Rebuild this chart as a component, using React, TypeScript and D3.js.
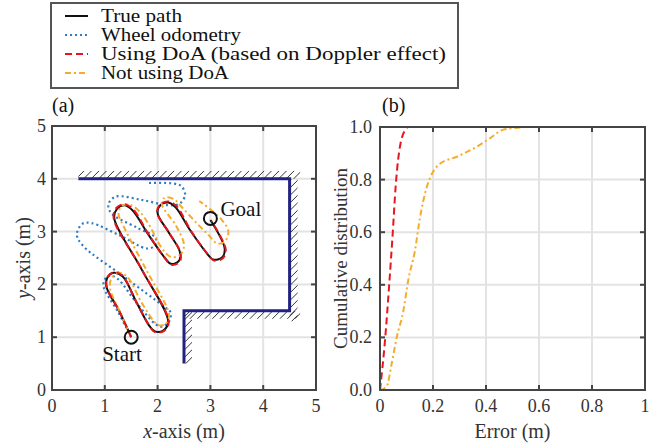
import React from 'react';
import * as d3 from 'd3';

type P = [number, number];

// Left panel (a): trajectories in metres
const truePath: P[] = [
  [1.50, 1.00], [1.27, 1.50], [1.03, 1.96], [1.05, 2.13], [1.17, 2.22], [1.34, 2.15], [1.60, 1.66], [1.84, 1.22],
  [1.95, 1.11], [2.10, 1.12], [2.20, 1.30], [1.70, 2.28], [1.18, 3.25], [1.23, 3.43], [1.37, 3.50], [1.52, 3.41],
  [1.82, 2.95], [2.14, 2.50], [2.25, 2.39], [2.40, 2.44], [2.42, 2.62], [2.20, 3.00], [2.00, 3.35], [2.06, 3.51],
  [2.20, 3.55], [2.34, 3.46], [2.62, 3.02], [2.94, 2.58], [3.05, 2.47], [3.22, 2.51], [3.27, 2.68], [3.00, 3.22],
];

const wheelOdometry: P[] = [
  [1.50, 1.00], [1.25, 1.48], [0.98, 1.95], [1.00, 2.10], [1.10, 2.17], [1.25, 2.10], [1.60, 1.65], [1.97, 1.24],
  [2.08, 1.20], [2.22, 1.30], [2.24, 1.48], [2.12, 1.58], [1.40, 2.12], [0.58, 2.74], [0.47, 2.95], [0.58, 3.15],
  [0.75, 3.16], [1.30, 2.92], [1.80, 2.68], [1.95, 2.74], [1.96, 2.88], [1.60, 3.08], [1.12, 3.35], [1.07, 3.52],
  [1.20, 3.66], [1.70, 3.60], [2.20, 3.50], [2.42, 3.53], [2.52, 3.70], [2.45, 3.86], [2.30, 3.91], [1.82, 3.92],
];

const usingDoA: P[] = [
  [1.50, 1.00], [1.28, 1.48], [1.04, 1.94], [1.04, 2.12], [1.16, 2.23], [1.33, 2.17], [1.58, 1.70], [1.83, 1.24],
  [1.94, 1.10], [2.11, 1.11], [2.21, 1.28], [1.72, 2.25], [1.17, 3.24], [1.21, 3.44], [1.36, 3.52], [1.53, 3.43],
  [1.84, 2.93], [2.15, 2.48], [2.26, 2.37], [2.42, 2.43], [2.43, 2.61], [2.21, 2.99], [1.99, 3.36], [2.05, 3.52],
  [2.21, 3.57], [2.36, 3.48], [2.64, 3.00], [2.96, 2.56], [3.07, 2.45], [3.24, 2.50], [3.29, 2.67], [3.02, 3.20],
];

const notUsingDoA: P[] = [
  [1.50, 1.00], [1.30, 1.45], [1.10, 1.92], [1.12, 2.10], [1.25, 2.22], [1.42, 2.15], [1.70, 1.65], [1.95, 1.28],
  [2.05, 1.22], [2.18, 1.28], [2.21, 1.45], [1.80, 2.25], [1.38, 3.05], [1.26, 3.35], [1.34, 3.50], [1.50, 3.50],
  [1.66, 3.38], [1.85, 3.11], [2.07, 2.70], [2.25, 2.52], [2.42, 2.55], [2.50, 2.74], [2.35, 3.11], [2.08, 3.52],
  [2.13, 3.64], [2.30, 3.62], [2.46, 3.46], [2.75, 3.15], [2.95, 2.95], [3.14, 2.77], [3.28, 2.82], [3.34, 3.00],
  [3.20, 3.24], [2.79, 3.58],
];

const wall: P[] = [[0.5, 4.0], [4.5, 4.0], [4.5, 1.5], [2.5, 1.5], [2.5, 0.5]];
const startPt: P = [1.5, 1.0];
const goalPt: P = [3.0, 3.25];

// Right panel (b): cumulative distributions of error (m)
const cdfUsingDoA: P[] = [
  [0, 0], [0.019, 0.19], [0.035, 0.405], [0.048, 0.596], [0.059, 0.773], [0.078, 0.94], [0.1, 0.995], [0.105, 1.0],
];
const cdfNotUsingDoA: P[] = [
  [0, 0], [0.025, 0.013], [0.044, 0.10], [0.063, 0.20], [0.088, 0.30], [0.107, 0.42], [0.132, 0.53], [0.15, 0.65],
  [0.176, 0.77], [0.195, 0.82], [0.226, 0.86], [0.29, 0.887], [0.365, 0.925], [0.415, 0.957], [0.465, 0.99],
  [0.497, 0.995], [0.547, 1.0],
];

const ticksA = [0, 1, 2, 3, 4, 5];
const ticksBx = [0, 0.2, 0.4, 0.6, 0.8, 1];
const ticksBxLabels = ['0', '0.2', '0.4', '0.6', '0.8', '1'];
const ticksBy = [0, 0.2, 0.4, 0.6, 0.8, 1.0];
const ticksByLabels = ['0.0', '0.2', '0.4', '0.6', '0.8', '1.0'];

const legendLabels = ['True path', 'Wheel odometry', 'Using DoA (based on Doppler effect)', 'Not using DoA'];

const C_BLACK = '#111';
const C_BLUE = '#2a7cc7';
const C_RED = '#e8161c';
const C_ORANGE = '#f5ac2c';
const C_WALL = '#222280';
const FONT = "'Liberation Serif', 'DejaVu Serif', serif";
const AX = '#444';
const GRID = '#e3e3e3';

function Hatch({ id, x, y, w, h }: { id: string; x: number; y: number; w: number; h: number }) {
  const step = 7.5;
  const lines: JSX.Element[] = [];
  const size = Math.max(w, h);
  for (let k = -size; k < w + size; k += step) {
    lines.push(<line key={k} x1={x + k} y1={y + h + 2} x2={x + k + h + 2} y2={y} stroke="#333" strokeWidth={1} />);
  }
  return (
    <g>
      <clipPath id={id}><rect x={x} y={y} width={w} height={h} /></clipPath>
      <g clipPath={`url(#${id})`}>{lines}</g>
    </g>
  );
}

export default function App() {
  const W = 658, H = 444;
  const L = { x0: 52, x1: 316, y0: 126, y1: 390 };
  const R = { x0: 380, x1: 645, y0: 127, y1: 390 };
  const xA = d3.scaleLinear().domain([0, 5]).range([L.x0, L.x1]);
  const yA = d3.scaleLinear().domain([0, 5]).range([L.y1, L.y0]);
  const xB = d3.scaleLinear().domain([0, 1]).range([R.x0, R.x1]);
  const yB = d3.scaleLinear().domain([0, 1]).range([R.y1, R.y0]);

  const lineA = d3.line<P>().x(d => xA(d[0])).y(d => yA(d[1])).curve(d3.curveCatmullRom.alpha(0.5));
  const lineWall = d3.line<P>().x(d => xA(d[0])).y(d => yA(d[1]));
  const lineB = d3.line<P>().x(d => xB(d[0])).y(d => yB(d[1])).curve(d3.curveMonotoneX);

  const tl = 5;
  const hatchT = 8;
  const ext = 0.2;

  const tickFont = 18;
  const labelFont = 20;
  const ts = { fontFamily: FONT };

  const legendRows = [0, 1, 2, 3];
  const legendWidths = [81, 140, 345, 128];
  const legendStyles = [
    { stroke: C_BLACK, dash: undefined as string | undefined },
    { stroke: C_BLUE, dash: '2 3' },
    { stroke: C_RED, dash: '7 4' },
    { stroke: C_ORANGE, dash: '6 3 2 3' },
  ];

  return (
    <div style={{ position: 'absolute', left: 0, top: 0 }}>
      <svg width={W} height={H} xmlns="http://www.w3.org/2000/svg" style={{ display: 'block', background: '#fff', fontFamily: FONT }}>
        {/* Legend */}
        <rect x={51} y={3} width={407} height={85} fill="#fff" stroke="#555" strokeWidth={2} />
        {legendRows.map(i => {
          const cy = 16 + i * 19;
          return (
            <g key={i}>
              <line x1={65} x2={88} y1={cy} y2={cy} stroke={legendStyles[i].stroke} strokeWidth={2} strokeDasharray={legendStyles[i].dash} />
              <text x={101} y={cy + 6} fontSize={19} fill="#111" style={ts}
                textLength={legendWidths[i]} lengthAdjust="spacingAndGlyphs">{legendLabels[i]}</text>
            </g>
          );
        })}

        {/* Panel labels */}
        <text x={52} y={112} fontSize={20} fill="#111" style={ts}>(a)</text>
        <text x={382} y={112} fontSize={20} fill="#111" style={ts}>(b)</text>

        {/* ===== Panel (a) ===== */}
        <rect x={L.x0} y={L.y0} width={L.x1 - L.x0} height={L.y1 - L.y0} fill="#fff" />
        {ticksA.map(t => (
          <g key={'ga' + t}>
            <line x1={xA(t)} x2={xA(t)} y1={L.y0} y2={L.y1} stroke={GRID} strokeWidth={2} />
            <line x1={L.x0} x2={L.x1} y1={yA(t)} y2={yA(t)} stroke={GRID} strokeWidth={2} />
          </g>
        ))}
        {/* hatching */}
        <Hatch id="h1" x={xA(wall[0][0])} y={yA(wall[0][1]) - hatchT} w={xA(wall[1][0] + ext) - xA(wall[0][0])} h={hatchT} />
        <Hatch id="h2" x={xA(wall[1][0])} y={yA(wall[1][1])} w={hatchT} h={yA(wall[2][1] - ext) - yA(wall[1][1])} />
        <Hatch id="h3" x={xA(wall[3][0])} y={yA(wall[3][1])} w={xA(wall[2][0] + ext) - xA(wall[3][0])} h={hatchT} />
        <Hatch id="h4" x={xA(wall[3][0])} y={yA(wall[3][1])} w={hatchT} h={yA(wall[4][1]) - yA(wall[3][1])} />
        <path d={lineWall(wall) || ''} fill="none" stroke={C_WALL} strokeWidth={3} />

        <path d={lineA(wheelOdometry) || ''} fill="none" stroke={C_BLUE} strokeWidth={2.2} strokeDasharray="2 3" />
        <path d={lineA(truePath) || ''} fill="none" stroke={C_BLACK} strokeWidth={2} />
        <path d={lineA(notUsingDoA) || ''} fill="none" stroke={C_ORANGE} strokeWidth={2} strokeDasharray="6 3 2 3" />
        <path d={lineA(usingDoA) || ''} fill="none" stroke={C_RED} strokeWidth={2} strokeDasharray="7 4" />

        <circle cx={xA(startPt[0])} cy={yA(startPt[1])} r={6.5} fill="none" stroke={C_BLACK} strokeWidth={2} />
        <circle cx={xA(goalPt[0])} cy={yA(goalPt[1])} r={6.5} fill="none" stroke={C_BLACK} strokeWidth={2} />
        <text x={xA(startPt[0]) - 29} y={yA(startPt[1]) + 24} fontSize={21} fill="#111" style={ts}>Start</text>
        <text x={xA(goalPt[0]) + 10} y={yA(goalPt[1]) - 2} fontSize={21} fill="#111" style={ts}>Goal</text>

        {/* frame & ticks */}
        <rect x={L.x0} y={L.y0} width={L.x1 - L.x0} height={L.y1 - L.y0} fill="none" stroke={AX} strokeWidth={2} />
        {ticksA.map(t => (
          <g key={'ta' + t} stroke={AX} strokeWidth={2}>
            <line x1={xA(t)} x2={xA(t)} y1={L.y1} y2={L.y1 - tl} />
            <line x1={xA(t)} x2={xA(t)} y1={L.y0} y2={L.y0 + tl} />
            <line x1={L.x0} x2={L.x0 + tl} y1={yA(t)} y2={yA(t)} />
            <line x1={L.x1} x2={L.x1 - tl} y1={yA(t)} y2={yA(t)} />
          </g>
        ))}
        {ticksA.map(t => (
          <text key={'lx' + t} x={xA(t)} y={L.y1 + 22} fontSize={tickFont} textAnchor="middle" fill="#333" style={ts}>{t}</text>
        ))}
        {ticksA.map(t => (
          <text key={'ly' + t} x={L.x0 - 6} y={yA(t) + 6} fontSize={tickFont} textAnchor="end" fill="#333" style={ts}>{t}</text>
        ))}
        <text x={(L.x0 + L.x1) / 2} y={438} fontSize={labelFont} textAnchor="middle" fill="#333" style={ts}>
          <tspan fontStyle="italic">x</tspan>-axis (m)
        </text>
        <text transform={`translate(30, ${(L.y0 + L.y1) / 2}) rotate(-90)`} fontSize={labelFont} textAnchor="middle" fill="#333" style={ts}>
          <tspan fontStyle="italic">y</tspan>-axis (m)
        </text>

        {/* ===== Panel (b) ===== */}
        <rect x={R.x0} y={R.y0} width={R.x1 - R.x0} height={R.y1 - R.y0} fill="#fff" />
        {ticksBx.map(t => (
          <line key={'gbx' + t} x1={xB(t)} x2={xB(t)} y1={R.y0} y2={R.y1} stroke={GRID} strokeWidth={2} />
        ))}
        {ticksBy.map(t => (
          <line key={'gby' + t} x1={R.x0} x2={R.x1} y1={yB(t)} y2={yB(t)} stroke={GRID} strokeWidth={2} />
        ))}
        <path d={lineB(cdfNotUsingDoA) || ''} fill="none" stroke={C_ORANGE} strokeWidth={2} strokeDasharray="6 3 2 3" />
        <path d={lineB(cdfUsingDoA) || ''} fill="none" stroke={C_RED} strokeWidth={2} strokeDasharray="7 4" />
        <rect x={R.x0} y={R.y0} width={R.x1 - R.x0} height={R.y1 - R.y0} fill="none" stroke={AX} strokeWidth={2} />
        {ticksBx.map(t => (
          <g key={'tbx' + t} stroke={AX} strokeWidth={2}>
            <line x1={xB(t)} x2={xB(t)} y1={R.y1} y2={R.y1 - tl} />
            <line x1={xB(t)} x2={xB(t)} y1={R.y0} y2={R.y0 + tl} />
          </g>
        ))}
        {ticksBy.map(t => (
          <g key={'tby' + t} stroke={AX} strokeWidth={2}>
            <line x1={R.x0} x2={R.x0 + tl} y1={yB(t)} y2={yB(t)} />
            <line x1={R.x1} x2={R.x1 - tl} y1={yB(t)} y2={yB(t)} />
          </g>
        ))}
        {ticksBx.map((t, i) => (
          <text key={'lbx' + t} x={xB(t)} y={R.y1 + 22} fontSize={tickFont} textAnchor="middle" fill="#333" style={ts}>{ticksBxLabels[i]}</text>
        ))}
        {ticksBy.map((t, i) => (
          <text key={'lby' + t} x={R.x0 - 8} y={yB(t) + 6} fontSize={tickFont} textAnchor="end" fill="#333" style={ts}>{ticksByLabels[i]}</text>
        ))}
        <text x={(R.x0 + R.x1) / 2} y={438} fontSize={labelFont} textAnchor="middle" fill="#333" style={ts}>Error (m)</text>
        <text transform={`translate(347, ${(R.y0 + R.y1) / 2}) rotate(-90)`} fontSize={19} textAnchor="middle" fill="#333" style={ts}>Cumulative distribution</text>
      </svg>
    </div>
  );
}
